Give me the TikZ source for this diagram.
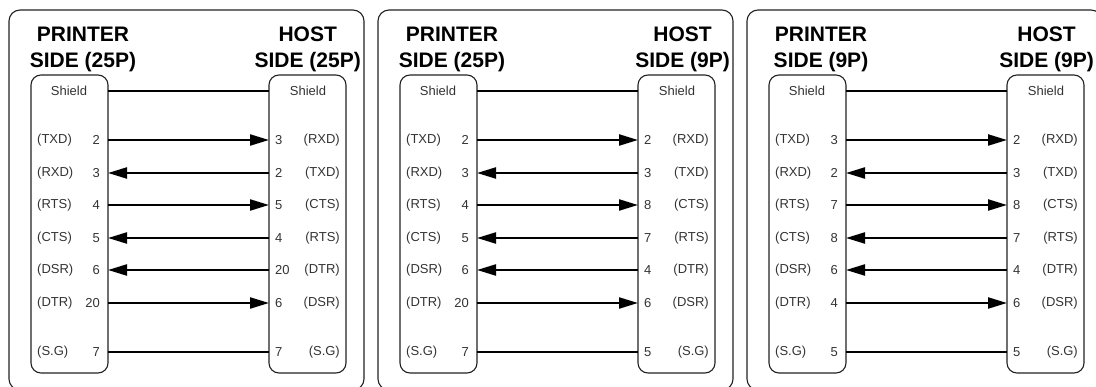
\documentclass[tikz,border=0pt]{standalone}
\usepackage{fontspec}
\setmainfont{Liberation Sans}
\usetikzlibrary{arrows.meta}
\definecolor{ink}{HTML}{222222}
\definecolor{labc}{HTML}{333333}
\tikzset{
  x=1pt, y=-1pt,
  outerbox/.style={draw=ink, line width=1.1pt, rounded corners=11pt},
  innerbox/.style={draw=ink, line width=1.1pt, rounded corners=10pt, minimum width=77pt, minimum height=298pt, inner sep=0pt, outer sep=0pt},
  head/.style={font=\fontsize{21}{26}\selectfont\bfseries, align=center, inner sep=0pt},
  lab/.style={font=\fontsize{13}{15}\selectfont, text=labc, inner sep=0pt},
  conn/.style={line width=2.2pt, draw=black},
  fwd/.style={conn, -{Triangle[length=19pt,width=11pt]}},
  bwd/.style={conn, {Triangle[length=19pt,width=11pt]}-},
  plain/.style={conn}
}
% #1 prefix, #2 left heading 2nd line, #3 right heading 2nd line, #4 right heading x
\newcommand\mypanel[4]{%
  \draw[outerbox] (9,10) rectangle (364,390);
  \node[innerbox, anchor=north west] (#1L) at (31,75) {};
  \node[innerbox, anchor=north west] (#1R) at (269,75) {};
  \node[head, anchor=north] (#1hl) at (83,27) {PRINTER\\#2};
  \node[head, anchor=north east] (#1hr) at (#4,27) {HOST\\#3};
  \node[lab] (#1sl) at (69,91) {Shield};
  \node[lab] (#1sr) at (308,91) {Shield};
  \coordinate (#1sa) at (108,91);
  \coordinate (#1sb) at (269,91);
  \draw[plain] (#1sa) -- (#1sb);
}
% #1 prefix #2 id #3 y #4 left signal #5 left pin #6 right pin #7 right signal #8 style
\newcommand\pinrow[8]{%
  \node[lab, anchor=west] (#1ls#2) at (37,#3) {#4};
  \node[lab, anchor=east] (#1ln#2) at (100,#3) {#5};
  \node[lab, anchor=west] (#1rn#2) at (275,#3) {#6};
  \node[lab, anchor=east] (#1rs#2) at (340,#3) {#7};
  \coordinate (#1a#2) at (108,#3);
  \coordinate (#1b#2) at (269,#3);
  \draw[#8] (#1a#2) -- (#1b#2);
}
\begin{document}
\begin{tikzpicture}
\path[use as bounding box] (0,0) rectangle (1096,387);
\clip (0,0) rectangle (1096,387);
\begin{scope}
  \mypanel{a}{SIDE (25P)}{SIDE (25P)}{361}
  \pinrow{a}{1}{140}{(TXD)}{2}{3}{(RXD)}{fwd}
  \pinrow{a}{2}{173}{(RXD)}{3}{2}{(TXD)}{bwd}
  \pinrow{a}{3}{205}{(RTS)}{4}{5}{(CTS)}{fwd}
  \pinrow{a}{4}{238}{(CTS)}{5}{4}{(RTS)}{bwd}
  \pinrow{a}{5}{270}{(DSR)}{6}{20}{(DTR)}{bwd}
  \pinrow{a}{6}{303}{(DTR)}{20}{6}{(DSR)}{fwd}
  \pinrow{a}{7}{352}{(S.G)}{7}{7}{(S.G)}{plain}
\end{scope}
\begin{scope}[xshift=369pt]
  \mypanel{b}{SIDE (25P)}{SIDE (9P)}{361}
  \pinrow{b}{1}{140}{(TXD)}{2}{2}{(RXD)}{fwd}
  \pinrow{b}{2}{173}{(RXD)}{3}{3}{(TXD)}{bwd}
  \pinrow{b}{3}{205}{(RTS)}{4}{8}{(CTS)}{fwd}
  \pinrow{b}{4}{238}{(CTS)}{5}{7}{(RTS)}{bwd}
  \pinrow{b}{5}{270}{(DSR)}{6}{4}{(DTR)}{bwd}
  \pinrow{b}{6}{303}{(DTR)}{20}{6}{(DSR)}{fwd}
  \pinrow{b}{7}{352}{(S.G)}{7}{5}{(S.G)}{plain}
\end{scope}
\begin{scope}[xshift=738pt]
  \mypanel{c}{SIDE (9P)}{SIDE (9P)}{356}
  \pinrow{c}{1}{140}{(TXD)}{3}{2}{(RXD)}{fwd}
  \pinrow{c}{2}{173}{(RXD)}{2}{3}{(TXD)}{bwd}
  \pinrow{c}{3}{205}{(RTS)}{7}{8}{(CTS)}{fwd}
  \pinrow{c}{4}{238}{(CTS)}{8}{7}{(RTS)}{bwd}
  \pinrow{c}{5}{270}{(DSR)}{6}{4}{(DTR)}{bwd}
  \pinrow{c}{6}{303}{(DTR)}{4}{6}{(DSR)}{fwd}
  \pinrow{c}{7}{352}{(S.G)}{5}{5}{(S.G)}{plain}
\end{scope}
\end{tikzpicture}
\end{document}
